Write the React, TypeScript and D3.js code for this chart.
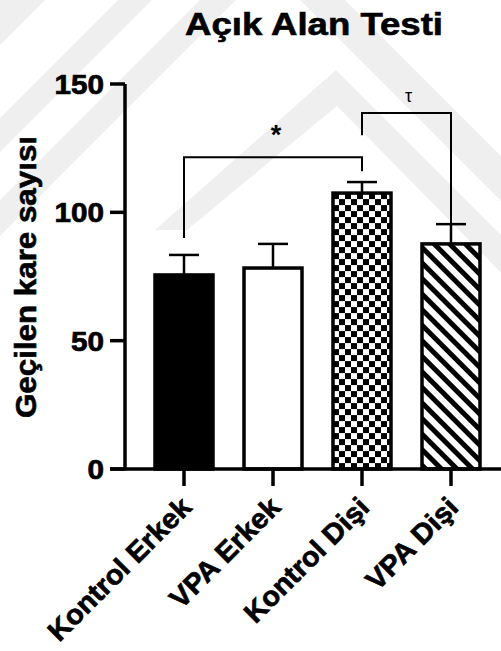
import React, { useEffect, useRef } from "react";
import * as d3 from "d3";

const categories = ["Kontrol Erkek", "VPA Erkek", "Kontrol Dişi", "VPA Dişi"];
const means = [75.6, 78.3, 107.5, 87.7];
const sems = [7.8, 9.4, 4.3, 7.7];
const yTicks = [0, 50, 100, 150];

// significance brackets, in data units
const comparisons = [
  { from: 0, to: 2, level: 121.5, legFrom: 90, legTo: 116, label: "*" },
  { from: 2, to: 3, level: 138.7, legFrom: 130, legTo: 87.7, label: "τ" },
];

const W = 501;
const H = 651;
const font = "'Liberation Sans', Arial, sans-serif";

// faint watermark shapes behind the chart
const watermark = [
  [[0, 0], [45, 0], [0, 45]],
  [[0, 118], [118, 0], [152, 0], [0, 152]],
  [[0, 200], [200, 0], [236, 0], [0, 236]],
  [[155, 230], [336, 70], [520, 254], [520, 292], [337, 106], [187, 230]],
  [[300, 0], [345, 0], [520, 175], [520, 220]],
];

// stretch glyphs a little wider, like the original export
function widen(sel: d3.Selection<SVGTextElement, any, any, any>, factor: number) {
  sel.each(function () {
    const n = this.getComputedTextLength();
    d3.select(this).attr("textLength", n * factor).attr("lengthAdjust", "spacingAndGlyphs");
  });
}

export default function App() {
  const ref = useRef<SVGSVGElement>(null);

  useEffect(() => {
    const svg = d3.select(ref.current);
    svg.selectAll("*").remove();

    const y = d3.scaleLinear().domain([0, 150]).range([469, 84]);
    const x = d3.scalePoint<string>().domain(categories).range([184, 451]);
    const barW = 58;

    const defs = svg.append("defs");
    const checker = defs.append("pattern")
      .attr("id", "checker")
      .attr("patternUnits", "userSpaceOnUse")
      .attr("x", x(categories[2])! - barW / 2)
      .attr("y", y(means[2]))
      .attr("width", 12)
      .attr("height", 12);
    checker.append("rect").attr("width", 12).attr("height", 12).attr("fill", "#fff");
    checker.append("rect").attr("width", 6).attr("height", 6).attr("fill", "#000");
    checker.append("rect").attr("x", 6).attr("y", 6).attr("width", 6).attr("height", 6).attr("fill", "#000");

    const hatch = defs.append("pattern")
      .attr("id", "hatch")
      .attr("patternUnits", "userSpaceOnUse")
      .attr("width", 11)
      .attr("height", 11)
      .attr("patternTransform", "rotate(-45)");
    hatch.append("rect").attr("width", 11).attr("height", 11).attr("fill", "#fff");
    hatch.append("rect").attr("width", 5).attr("height", 11).attr("fill", "#000");

    svg.append("g")
      .selectAll("polygon")
      .data(watermark)
      .enter()
      .append("polygon")
      .attr("points", d => d.map(p => p.join(",")).join(" "))
      .attr("fill", "#efefef");

    const fills = ["#000", "#fff", "url(#checker)", "url(#hatch)"];

    // error bars (upper only)
    const err = svg.append("g").attr("stroke", "#000").attr("stroke-width", 2.5);
    categories.forEach((c, i) => {
      const cx = x(c)!;
      err.append("line")
        .attr("x1", cx).attr("x2", cx)
        .attr("y1", y(means[i])).attr("y2", y(means[i] + sems[i]));
      err.append("line")
        .attr("x1", cx - 15).attr("x2", cx + 15)
        .attr("y1", y(means[i] + sems[i])).attr("y2", y(means[i] + sems[i]));
    });

    svg.append("g")
      .selectAll("rect")
      .data(means)
      .enter()
      .append("rect")
      .attr("x", (d, i) => x(categories[i])! - barW / 2)
      .attr("y", d => y(d))
      .attr("width", barW)
      .attr("height", d => y(0) - y(d))
      .attr("fill", (d, i) => fills[i])
      .attr("stroke", "#000")
      .attr("stroke-width", 3.5);

    // y axis
    const yAxis = svg.append("g")
      .attr("transform", "translate(125,0)")
      .call(d3.axisLeft(y).tickValues(yTicks).tickSize(15).tickSizeOuter(0).tickPadding(6).offset(0));
    yAxis.select(".domain").attr("stroke-width", 3.5).attr("d", `M0,${y(150)}V${y(0) + 1.5}`);
    yAxis.selectAll(".tick line").attr("stroke-width", 3.5);
    const yText = yAxis.selectAll<SVGTextElement, number>(".tick text")
      .attr("font-family", font)
      .attr("font-weight", "bold")
      .attr("font-size", 27)
      .attr("fill", "#000")
      .attr("stroke", "#000")
      .attr("stroke-width", 0.7)
      .attr("dy", null)
      .attr("y", 10)
      .attr("x", -21);
    widen(yText, 1.1);

    // x axis
    svg.append("line")
      .attr("x1", 110).attr("x2", W)
      .attr("y1", y(0)).attr("y2", y(0))
      .attr("stroke", "#000").attr("stroke-width", 3.5);
    const xAxis = svg.append("g")
      .attr("transform", `translate(0,${y(0)})`)
      .call(d3.axisBottom(x).tickSize(17).tickSizeOuter(0).offset(0));
    xAxis.select(".domain").remove();
    xAxis.selectAll(".tick line").attr("stroke-width", 3.5);
    const xText = xAxis.selectAll<SVGTextElement, string>(".tick text")
      .attr("font-family", font)
      .attr("font-weight", "bold")
      .attr("font-size", 28)
      .attr("fill", "#000")
      .attr("stroke", "#000")
      .attr("stroke-width", 0.7)
      .attr("text-anchor", "end")
      .attr("dy", null)
      .attr("y", null)
      .attr("transform", `translate(9,${509 - y(0)}) rotate(-45)`);
    widen(xText, 1.03);

    // brackets
    const br = svg.append("g");
    comparisons.forEach(cmp => {
      const x1 = x(categories[cmp.from])!;
      const x2 = x(categories[cmp.to])!;
      br.append("path")
        .attr("d", `M${x1},${y(cmp.legFrom)}V${y(cmp.level)}H${x2}V${y(cmp.legTo)}`)
        .attr("fill", "none")
        .attr("stroke", "#000")
        .attr("stroke-width", 2);
    });
    br.append("text")
      .attr("x", (x(categories[0])! + x(categories[2])!) / 2 + 3)
      .attr("y", y(comparisons[0].level) - 13)
      .attr("text-anchor", "middle")
      .attr("font-family", font)
      .attr("font-weight", "bold")
      .attr("font-size", 27)
      .text(comparisons[0].label);
    br.append("text")
      .attr("x", (x(categories[2])! + x(categories[3])!) / 2 + 2)
      .attr("y", y(comparisons[1].level) - 11)
      .attr("text-anchor", "middle")
      .attr("font-family", font)
      .attr("font-size", 18)
      .text(comparisons[1].label);

    // titles
    svg.append("text")
      .attr("x", 314)
      .attr("y", 35)
      .attr("text-anchor", "middle")
      .attr("font-family", font)
      .attr("font-weight", "bold")
      .attr("font-size", 30.5)
      .attr("stroke", "#000")
      .attr("stroke-width", 0.6)
      .attr("textLength", 258)
      .attr("lengthAdjust", "spacingAndGlyphs")
      .text("Açık Alan Testi");
    svg.append("text")
      .attr("transform", "translate(36,277) rotate(-90)")
      .attr("text-anchor", "middle")
      .attr("font-family", font)
      .attr("font-weight", "bold")
      .attr("font-size", 29)
      .attr("stroke", "#000")
      .attr("stroke-width", 0.6)
      .attr("textLength", 282)
      .attr("lengthAdjust", "spacingAndGlyphs")
      .text("Geçilen kare sayısı");
  }, []);

  return (
    <svg
      ref={ref}
      width={W}
      height={H}
      style={{ position: "absolute", left: 0, top: 0, background: "#fff" }}
    />
  );
}
